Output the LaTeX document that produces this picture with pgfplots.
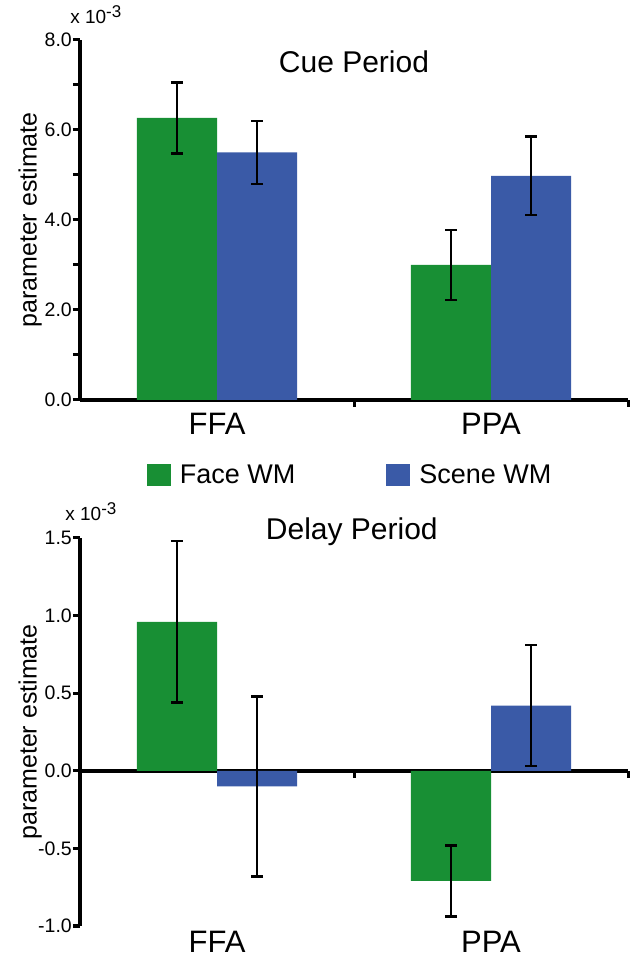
\documentclass[border=0pt]{standalone}
\usepackage{fontspec}
\setmainfont{Liberation Sans}
\usepackage{pgfplots}
\pgfplotsset{compat=1.18}
\definecolor{fgreen}{RGB}{24,143,52}
\definecolor{sblue}{RGB}{58,90,167}
\newcommand{\xten}{x 10\raisebox{6bp}{\fontsize{17bp}{18bp}\selectfont -3}}
\pgfplotsset{
  panel/.style={
    scale only axis, width=548bp,
    xmin=-0.5, xmax=1.5,
    xtick={0.5,1.5}, xticklabels={},
    extra x ticks={0,1}, extra x tick labels={FFA,PPA},
    extra x tick style={major tick length=0bp},
    xticklabel style={font=\fontsize{31bp}{34bp}\selectfont},
    yticklabel style={font=\fontsize{19.5bp}{21bp}\selectfont, inner sep=1bp},
    /pgf/number format/.cd, fixed, fixed zerofill, precision=1, assume math mode=true,
    /pgfplots/.cd,
    every tick/.style={black, line width=3bp},
    major tick length=7bp, minor tick length=7bp,
    every axis y label/.style={at={(axis description cs:-0.091,0.5)}, rotate=90, anchor=center},
    ylabel={parameter estimate},
    ylabel style={font=\fontsize{25bp}{27bp}\selectfont},
    ybar, bar width=0.292,
    clip=false,
  },
  fixlines/.style={
    axis line style={-, line width=4bp},
    every outer x axis line/.append style={-, line width=4bp},
    every outer y axis line/.append style={-, line width=4bp},
    every inner x axis line/.append style={-, line width=4bp},
    tick align=outside,
    xtick align=outside, ytick align=outside,
  },
  errstyle/.style={
    error bars/.cd, y dir=both, y explicit,
    error bar style={line width=2.5bp, black},
    error mark options={line width=2.5bp, mark size=6bp, black, rotate=90},
  },
}
\begin{document}
\begin{tikzpicture}
\useasboundingbox (0,0) rectangle (632bp,962bp);
% Top panel: Cue Period
\begin{axis}[panel,
  at={(80bp,562bp)}, anchor=south west, height=360bp,
  axis x line=bottom, axis y line=left,
  xticklabel style={yshift=-10bp},
  ymin=0, ymax=8,
  ytick={0,2,4,6,8}, minor ytick={1,3,5,7},
  legend columns=2,
  legend style={at={(axis description cs:0.493,-0.208)}, anchor=center, draw=none, fill=none,
    font=\fontsize{27bp}{29bp}\selectfont,
    /tikz/every odd column/.append style={column sep=7bp},
    /tikz/every even column/.append style={column sep=89bp}},
  legend image code/.code={\fill[#1] (0bp,-11bp) rectangle (24bp,11bp);},
  fixlines,
]
\addplot[fill=fgreen, draw=none, bar shift=-0.146, errstyle] coordinates {
  (0,6.27) +- (0,0.79)
  (1,3.00) +- (0,0.78)
};
\addlegendentry{Face WM}
\addplot[fill=sblue, draw=none, bar shift=0.146, errstyle] coordinates {
  (0,5.50) +- (0,0.70)
  (1,4.98) +- (0,0.87)
};
\addlegendentry{Scene WM}
\node[font=\fontsize{30bp}{32bp}\selectfont] at (axis description cs:0.5,0.939) {Cue Period};
\node[font=\fontsize{19bp}{20bp}\selectfont, anchor=base west, inner sep=0pt] at (axis description cs:-0.018,1.045) {\xten};
\end{axis}
% Bottom panel: Delay Period
\begin{axis}[panel,
  at={(80bp,36bp)}, anchor=south west, height=388bp,
  axis x line=middle, axis y line=left,
  xticklabel style={yshift=-157bp},
  ymin=-1, ymax=1.5,
  ytick={-1,-0.5,0,0.5,1,1.5},
  fixlines,
]
\addplot[fill=fgreen, draw=none, bar shift=-0.146, errstyle] coordinates {
  (0,0.96) +- (0,0.52)
  (1,-0.71) +- (0,0.23)
};
\addplot[fill=sblue, draw=none, bar shift=0.146, errstyle] coordinates {
  (0,-0.10) +- (0,0.58)
  (1,0.42) +- (0,0.39)
};
\node[font=\fontsize{30bp}{32bp}\selectfont] at (axis description cs:0.496,1.015) {Delay Period};
\node[font=\fontsize{19bp}{20bp}\selectfont, anchor=base west, inner sep=0pt] at (axis description cs:-0.027,1.045) {\xten};
\end{axis}
\end{tikzpicture}
\end{document}
